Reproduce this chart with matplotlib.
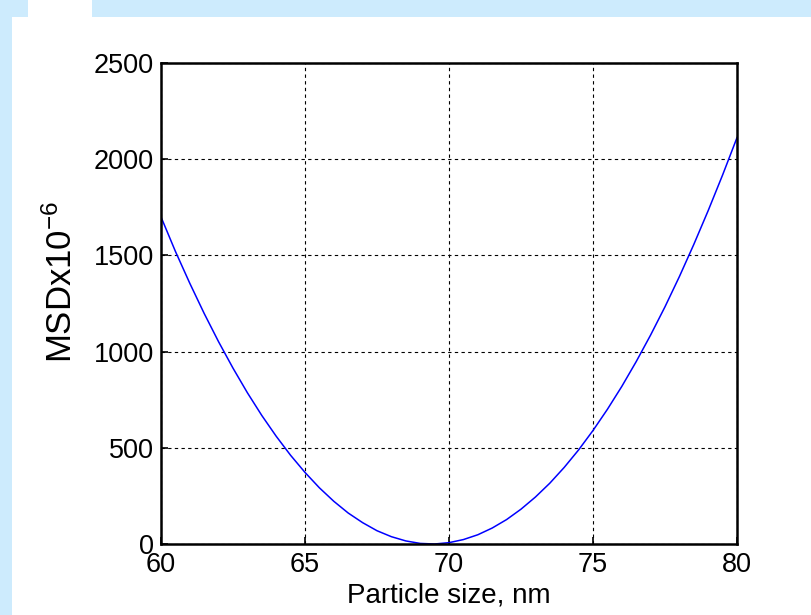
import matplotlib
matplotlib.use("Agg")
import matplotlib.pyplot as plt
from matplotlib.patches import Rectangle

plt.rcParams['font.family'] = ['Liberation Sans', 'DejaVu Sans']
plt.rcParams['mathtext.default'] = 'regular'

particle_size = [60, 60.5, 61, 61.5, 62, 62.5, 63, 63.5, 64, 64.5, 65, 65.5, 66, 66.5,
                 67, 67.5, 68, 68.5, 69, 69.5, 70, 70.5, 71, 71.5, 72, 72.5, 73, 73.5,
                 74, 74.5, 75, 75.5, 76, 76.5, 77, 77.5, 78, 78.5, 79, 79.5, 80]
msd = [1700, 1521, 1355, 1198, 1051, 914, 786, 668, 560, 461, 372, 292, 222, 161,
       111, 69, 38, 16, 3, 0, 7, 23, 48, 83, 127, 181, 244, 316,
       398, 489, 590, 700, 819, 948, 1086, 1233, 1390, 1557, 1733, 1918, 2112]
x_ticks = [60, 65, 70, 75, 80]
y_ticks = [0, 500, 1000, 1500, 2000, 2500]

W, H = 812, 615
fig = plt.figure(figsize=(W / 100, H / 100), dpi=100)
fig.patch.set_facecolor('white')

bg = '#cdebfd'
fig.patches.append(Rectangle((0, 1 - 17 / H), 28 / W, 17 / H, transform=fig.transFigure,
                             facecolor=bg, edgecolor='none', zorder=0))
fig.patches.append(Rectangle((92 / W, 1 - 17 / H), 1 - 92 / W, 17 / H, transform=fig.transFigure,
                             facecolor=bg, edgecolor='none', zorder=0))
fig.patches.append(Rectangle((0, 0), 12 / W, 1, transform=fig.transFigure,
                             facecolor=bg, edgecolor='none', zorder=0))

left, right, top, bottom = 161, 737, 63, 544
ax = fig.add_axes([left / W, 1 - bottom / H, (right - left) / W, (bottom - top) / H])
ax.plot(particle_size, msd, color='#0000ff', linewidth=1.1)

ax.set_xlim(60, 80)
ax.set_ylim(0, 2500)
ax.set_xticks(x_ticks)
ax.set_yticks(y_ticks)
ax.grid(True, color='black', linestyle=(0, (3, 3)), linewidth=0.8)
ax.tick_params(direction='in', length=5, width=1.2, labelsize=19.5)
ax.tick_params(axis='y', pad=5)
ax.tick_params(axis='x', pad=6)
for s in ax.spines.values():
    s.set_linewidth(1.8)

ax.set_xlabel('Particle size, nm', fontsize=20, labelpad=3)
ax.set_ylabel('MSDx10$^{-6}$', fontsize=25)
ax.yaxis.set_label_coords(-0.142, 0.545)

fig.savefig('out.png', dpi=100, facecolor=fig.get_facecolor())
